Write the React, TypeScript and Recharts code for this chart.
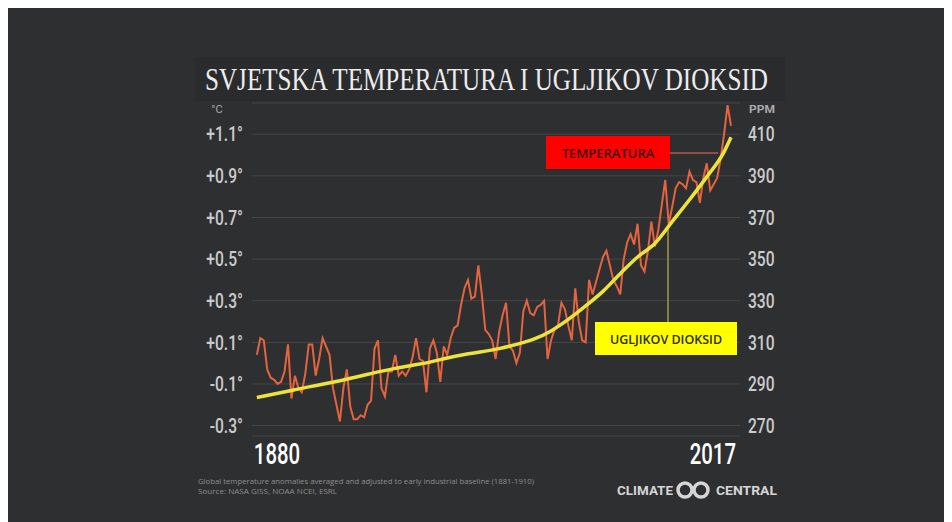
import React from "react";
import { LineChart, Line, XAxis, YAxis, CartesianGrid, ReferenceLine } from "recharts";

const START_YEAR = 1880;
// Temperature anomaly (°C vs 1881-1910), one value per year 1880..2017
const tempValues = [
  0.04, 0.12, 0.11, -0.03, -0.07, -0.08, -0.10, -0.09, -0.04, 0.09,
  -0.17, -0.06, -0.12, -0.14, -0.05, 0.09, 0.09, -0.06, 0.02, 0.12,
  0.08, 0.04, -0.12, -0.20, -0.28, -0.12, -0.03, -0.21, -0.27, -0.27,
  -0.25, -0.26, -0.20, -0.18, 0.07, 0.11, -0.12, -0.16, -0.04, -0.04,
  0.04, -0.06, -0.04, -0.06, -0.03, 0.03, 0.12, 0.02, 0.01, -0.14,
  0.07, 0.11, 0.05, -0.09, 0.08, 0.04, 0.12, 0.17, 0.18, 0.28,
  0.36, 0.40, 0.31, 0.32, 0.47, 0.33, 0.16, 0.14, 0.11, 0.02,
  0.15, 0.23, 0.29, 0.08, 0.06, 0.00, 0.05, 0.25, 0.30, 0.24,
  0.23, 0.27, 0.28, 0.30, 0.02, 0.11, 0.16, 0.18, 0.29, 0.26,
  0.18, 0.11, 0.36, 0.20, 0.11, 0.10, 0.40, 0.33, 0.39, 0.45,
  0.51, 0.54, 0.47, 0.40, 0.37, 0.33, 0.50, 0.58, 0.62, 0.57,
  0.67, 0.47, 0.44, 0.54, 0.68, 0.56, 0.64, 0.76, 0.88, 0.67,
  0.75, 0.84, 0.87, 0.86, 0.84, 0.92, 0.88, 0.87, 0.77, 0.89,
  0.96, 0.83, 0.86, 0.89, 0.98, 1.10, 1.24, 1.14,
];
const tempData = tempValues.map((t, i) => ({ year: START_YEAR + i, temp: t }));

// CO2 (ppm)
const co2Years = [
  1880, 1885, 1890, 1895, 1900, 1905, 1910, 1915, 1920, 1925, 1930, 1935, 1940, 1945,
  1950, 1955, 1960, 1965, 1970, 1975, 1980, 1985, 1990, 1995, 2000, 2005, 2010, 2015, 2017,
];
const co2Values = [
  283.5, 285.2, 286.9, 288.6, 290.2, 291.9, 293.8, 295.8, 297.5, 299.0, 300.5, 302.5, 304.2, 305.5,
  307.0, 309.0, 311.5, 315.5, 321.0, 327.5, 334.5, 343.0, 351.0, 357.5, 368.0, 378.5, 389.5, 401.5, 408.5,
];
const co2Data = co2Years.map((y, i) => ({ year: y, co2: co2Values[i] }));

const tempTicks = [-0.3, -0.1, 0.1, 0.3, 0.5, 0.7, 0.9, 1.1];
const ppmTicks = [270, 290, 310, 330, 350, 370, 390, 410];
const yearTicks = [1880, 2017];

const TITLE = "SVJETSKA TEMPERATURA I UGLJIKOV DIOKSID";
const TEMP_LABEL = "TEMPERATURA";
const CO2_LABEL = "UGLJIKOV DIOKSID";
const NOTE1 = "Global temperature anomalies averaged and adjusted to early industrial baseline (1881-1910)";
const NOTE2 = "Source: NASA GISS, NOAA NCEI, ESRL";

// annotation connectors (data coordinates)
const tempConnector = [{ x: 1999.4, y: 1.01 }, { x: 2013.3, y: 1.01 }];
const co2Connector = [{ x: 1998.8, y: 365 }, { x: 1998.8, y: 319.5 }];

const BG = "#2e2f31";
const TICK_COLOR = "#cbcbcb";
const TICK_FONT = "Roboto, 'DejaVu Sans', sans-serif";

const fmtTemp = (v: number) => (v > 0 ? "+" : "") + v.toFixed(1) + "°";

const LeftTick = (props: any) => {
  const { x, y, payload } = props;
  return (
    <g transform={`translate(${x - 9},${y}) scale(0.78,1)`}>
      <text x={0} y={0} dy="0.36em" textAnchor="end" fill={TICK_COLOR} fontSize={20} fontWeight={500} fontFamily={TICK_FONT}>
        {fmtTemp(payload.value)}
      </text>
    </g>
  );
};

const RightTick = (props: any) => {
  const { x, y, payload } = props;
  return (
    <g transform={`translate(${x + 8},${y}) scale(0.78,1)`}>
      <text x={0} y={0} dy="0.36em" textAnchor="start" fill={TICK_COLOR} fontSize={20} fontWeight={500} fontFamily={TICK_FONT}>
        {payload.value}
      </text>
    </g>
  );
};

const YearTick = (props: any) => {
  const { x, y, payload } = props;
  const first = payload.value === yearTicks[0];
  return (
    <g transform={`translate(${first ? x - 3 : x + 5},${y + 28}) scale(0.68,1)`}>
      <text x={0} y={0} textAnchor={first ? "start" : "end"} fill="#ffffff" fontSize={30} fontWeight={500} fontFamily={TICK_FONT}>
        {payload.value}
      </text>
    </g>
  );
};

export default function App() {
  return (
    <div style={{ position: "relative", width: 944, height: 514, background: BG, overflow: "hidden" }}>
      <LineChart
        width={944}
        height={514}
        data={tempData}
        margin={{ top: 95, right: 0, bottom: 46, left: 0 }}
      >
        <CartesianGrid yAxisId="t" vertical={false} stroke="#45474a" strokeWidth={1} />
        <XAxis
          dataKey="year"
          type="number"
          domain={[1878.6, 2019.6]}
          allowDataOverflow
          ticks={yearTicks}
          tick={<YearTick />}
          tickLine={false}
          axisLine={false}
          tickSize={0}
          tickMargin={0}
          height={40}
          interval={0}
        />
        <YAxis
          yAxisId="t"
          orientation="left"
          width={244}
          domain={[-0.35, 1.25]}
          allowDataOverflow
          ticks={tempTicks}
          tick={<LeftTick />}
          tickLine={false}
          axisLine={false}
          tickSize={0}
          tickMargin={0}
          interval={0}
        />
        <YAxis
          yAxisId="c"
          orientation="right"
          width={212}
          domain={[265, 425]}
          allowDataOverflow
          ticks={ppmTicks}
          tick={<RightTick />}
          tickLine={false}
          axisLine={false}
          tickSize={0}
          tickMargin={0}
          interval={0}
        />
        <ReferenceLine yAxisId="t" segment={tempConnector} stroke="#b5564c" strokeWidth={1.5} />
        <ReferenceLine yAxisId="c" segment={co2Connector} stroke="#a39a48" strokeWidth={1.5} />
        <Line
          yAxisId="t"
          type="linear"
          dataKey="temp"
          stroke="#e4643f"
          strokeWidth={2}
          dot={false}
          isAnimationActive={false}
        />
        <Line
          yAxisId="c"
          type="monotone"
          data={co2Data}
          dataKey="co2"
          stroke="#ece33c"
          strokeWidth={3.5}
          dot={false}
          isAnimationActive={false}
        />
      </LineChart>
      <svg
        width={944}
        height={514}
        style={{ position: "absolute", left: 0, top: 0, pointerEvents: "none" }}
      >
        <rect x={187} y={49} width={590} height={44} fill="#2a2b2d" />
        <text
          x={197}
          y={82}
          fontFamily="'Liberation Serif', 'DejaVu Serif', serif"
          fontSize={32}
          fill="#ececec"
          textLength={563}
          lengthAdjust="spacingAndGlyphs"
        >
          {TITLE}
        </text>
        <text x={209} y={105} textAnchor="middle" fontFamily={TICK_FONT} fontSize={11} fill="#aaaaaa">°C</text>
        <text x={741} y={105} fontFamily={TICK_FONT} fontSize={10} fontWeight={700} fill="#aaaaaa" textLength={26} lengthAdjust="spacingAndGlyphs">PPM</text>

        <rect x={538} y={128} width={124} height={33} fill="#ff0000" />
        <text x={600} y={149.5} textAnchor="middle" fontFamily="'Open Sans', sans-serif" fontSize={13} fontWeight={600} fill="#3e0808">
          {TEMP_LABEL}
        </text>

        <rect x={587} y={314} width={142} height={33} fill="#ffff00" />
        <text x={658} y={335.5} textAnchor="middle" fontFamily="'Open Sans', sans-serif" fontSize={12.5} fontWeight={600} fill="#2e2e08">
          {CO2_LABEL}
        </text>

        <text x={190} y={476} fontFamily="'Open Sans', sans-serif" fontSize={8} fill="#8e8e8e" textLength={336} lengthAdjust="spacingAndGlyphs">
          {NOTE1}
        </text>
        <text x={190} y={486} fontFamily="'Open Sans', sans-serif" fontSize={8} fill="#8e8e8e" textLength={139} lengthAdjust="spacingAndGlyphs">
          {NOTE2}
        </text>

        <text x={609} y={486.5} fontFamily="Roboto, sans-serif" fontSize={12.5} fontWeight={700} fill="#d5d5d5" textLength={56} lengthAdjust="spacingAndGlyphs">
          CLIMATE
        </text>
        <circle cx={677} cy={482} r={7} fill="none" stroke="#d5d5d5" strokeWidth={3.5} />
        <circle cx={693} cy={482} r={7} fill="none" stroke="#d5d5d5" strokeWidth={3.5} />
        <text x={708} y={486.5} fontFamily="Roboto, sans-serif" fontSize={12.5} fontWeight={700} fill="#d5d5d5" textLength={61} lengthAdjust="spacingAndGlyphs">
          CENTRAL
        </text>
      </svg>
    </div>
  );
}
